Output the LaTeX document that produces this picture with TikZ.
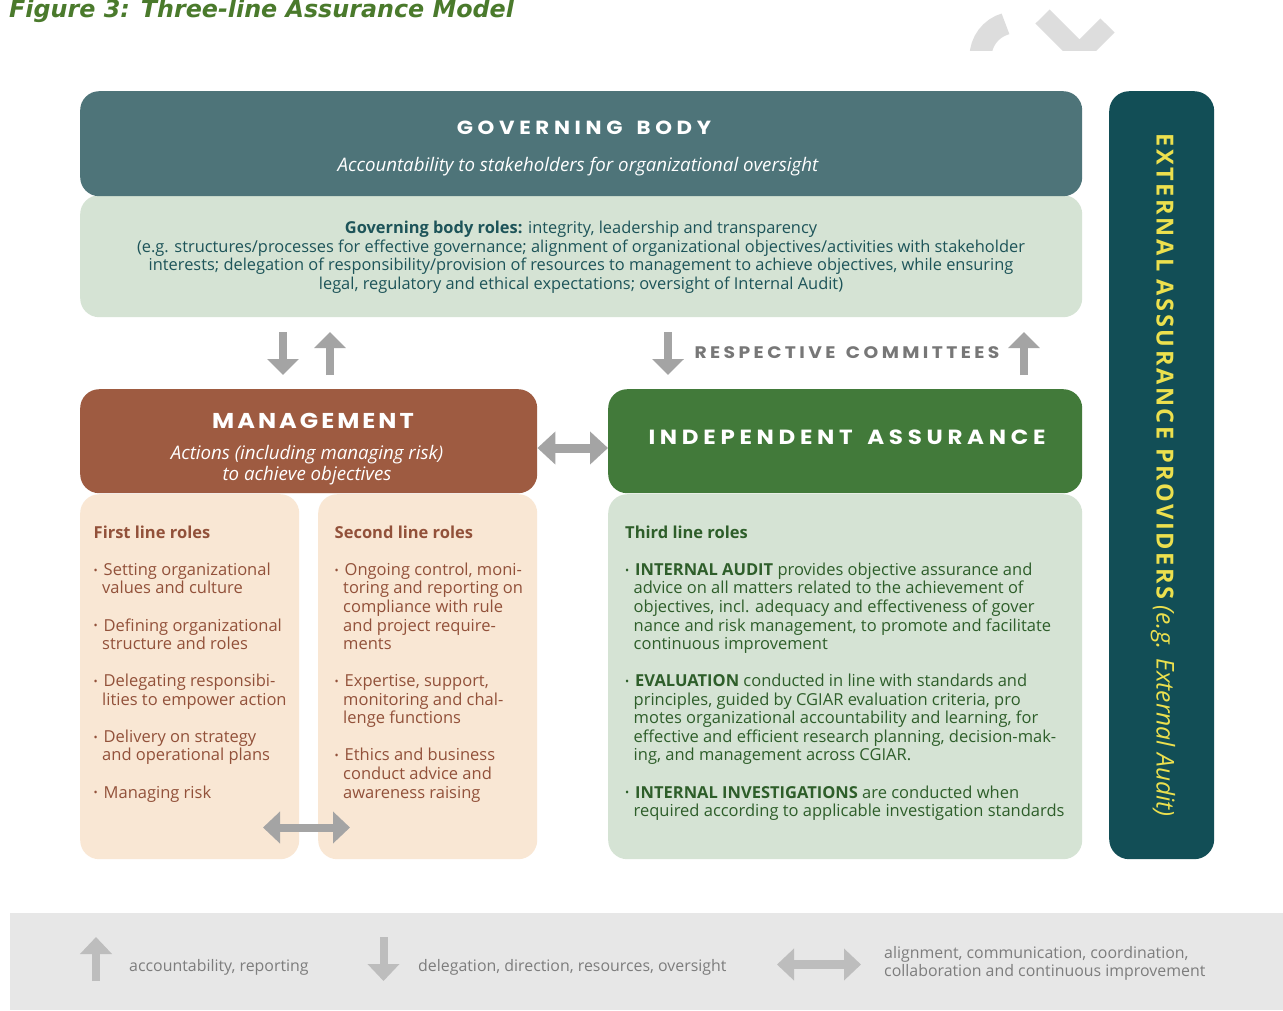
\documentclass[tikz,border=0pt]{standalone}
\usepackage{fontspec}
\setmainfont{Open Sans}
\newfontfamily\govheadfont[LetterSpace=24.5,FakeStretch=1.12]{Poppins}
\newfontfamily\mgmtheadfont[LetterSpace=14,FakeStretch=1.12]{Poppins}
\newfontfamily\indepheadfont[LetterSpace=23,FakeStretch=1.12]{Poppins}
\newfontfamily\committeefont[LetterSpace=20.5,FakeStretch=1.12]{Poppins}
\newfontfamily\extfont[LetterSpace=11]{Open Sans}
\newfontfamily\titlefont{DejaVu Sans}
\usetikzlibrary{arrows.meta}

\definecolor{govdark}{HTML}{4E7479}
\definecolor{govlight}{HTML}{D5E3D4}
\definecolor{govtext}{HTML}{1D5459}
\definecolor{mgmtbrown}{HTML}{9E5B41}
\definecolor{peach}{HTML}{F9E7D4}
\definecolor{browntext}{HTML}{92513A}
\definecolor{indepgreen}{HTML}{427A3A}
\definecolor{greentext}{HTML}{2E5E2A}
\definecolor{extteal}{HTML}{124E56}
\definecolor{extyellow}{HTML}{ECE04E}
\definecolor{arrowgrey}{HTML}{A4A4A4}
\definecolor{committeegrey}{HTML}{777777}
\definecolor{legendbg}{HTML}{E7E7E7}
\definecolor{legendarrow}{HTML}{BDBDBD}
\definecolor{legendtext}{HTML}{7D7D7D}
\definecolor{titlegreen}{HTML}{4A7A2C}
\definecolor{decogrey}{HTML}{DDDDDD}

% bullet and continuation indent for the role lists
\newcommand\rolebullet{\makebox[10pt][l]{\raisebox{0.15ex}{\fontsize{11}{11}\selectfont\textbullet}}}
\newcommand\rolecont{\hspace*{8.5pt}}
\newlength\rolegap
\setlength\rolegap{18.55pt}
% a block of lines whose reference point is the baseline of its first line
\newcommand\linesleft[2]{\begin{minipage}[t]{#1}\raggedright #2\end{minipage}}
\newcommand\linescentred[2]{\begin{minipage}[t]{#1}\centering #2\end{minipage}}

\begin{document}
\begin{tikzpicture}[x=1pt,y=-1pt,
  panel/.style={rounded corners=19pt, inner sep=0pt, anchor=north west, draw=none},
  capsline/.style={text=white, inner sep=0pt},
  subitalic/.style={font=\itshape\fontsize{18.7}{21}\selectfont, text=white, inner sep=0pt, anchor=base},
  rolelist/.style={font=\fontsize{16.5}{18.55}\selectfont, inner sep=0pt, anchor=base west},
  garrow/.style={draw=arrowgrey, line width=8pt, -{Triangle[width=31pt,length=16pt]}},
  gdouble/.style={draw=arrowgrey, line width=9pt, {Triangle[width=32pt,length=18pt]}-{Triangle[width=32pt,length=18pt]}},
  larrow/.style={draw=legendarrow, line width=8pt, -{Triangle[width=31pt,length=17pt]}},
  ldouble/.style={draw=legendarrow, line width=9pt, {Triangle[width=31pt,length=17pt]}-{Triangle[width=31pt,length=17pt]}},
  legendlabel/.style={font=\fontsize{15.9}{18}\selectfont, text=legendtext, inner sep=0pt, anchor=base west}
]
\useasboundingbox (0,0) rectangle (1283,1010);
\fill[white] (0,0) rectangle (1283,1010);

% caption
\node[font=\titlefont\bfseries\itshape\fontsize{23.8}{26}\selectfont, text=titlegreen, inner sep=0pt, anchor=base west] (caption) at (9,17.5) {Figure 3: Three-line Assurance Model};

% decorative grey marks, top right
\begin{scope}
  \clip (930,0) rectangle (1283,50);
  \draw[decogrey, line width=22pt] (1015,57) ++(-180:34.5) arc[start angle=-180, end angle=-106, radius=34.5];
  \draw[decogrey, line width=20pt, line join=miter] (1042.5,16.5) -- (1079.5,53.6) -- (1107.5,25.5);
\end{scope}

% governing body
\node[panel, fill=govlight, minimum width=1002pt, minimum height=122pt] (govroles) at (80,195) {};
\node[panel, fill=govdark, minimum width=1002pt, minimum height=105pt] (gov) at (80,91) {};
\node[capsline, font=\govheadfont\bfseries\fontsize{19}{22}\selectfont] (govtitle) at (584,127.5) {GOVERNING\hspace{5pt} BODY};
\node[subitalic] (govsub) at (578,171.5) {Accountability to stakeholders for organizational oversight};
\node[font=\fontsize{16.4}{18.6}\selectfont, text=govtext, inner sep=0pt, anchor=base] (govrolestext) at (581,233.5)
  {\linescentred{1000pt}{\textbf{Governing body roles:} integrity, leadership and transparency\\
   (e.g. structures/processes for effective governance; alignment of organizational objectives/activities with stakeholder\\
   interests; delegation of responsibility/provision of resources to management to achieve objectives, while ensuring\\
   legal, regulatory and ethical expectations; oversight of Internal Audit)}};

% external providers
\node[panel, fill=extteal, minimum width=105pt, minimum height=768pt, rounded corners=20pt] (ext) at (1109,91) {};
\node[rotate=-90, text=extyellow, inner sep=0pt] (exttext) at (1163,475)
  {{\extfont\bfseries\fontsize{23.5}{26}\selectfont EXTERNAL ASSURANCE PROVIDERS}\hspace{6pt}{\itshape\fontsize{24.5}{26}\selectfont(e.g. External Audit)}};

% management and independent assurance
\node[panel, fill=mgmtbrown, minimum width=457pt, minimum height=104pt] (mgmt) at (80,389) {};
\node[panel, fill=indepgreen, minimum width=474pt, minimum height=104pt] (indep) at (608,389) {};
\node[capsline, font=\mgmtheadfont\bfseries\fontsize{21.5}{24}\selectfont] (mgmttitle) at (313,421) {MANAGEMENT};
\node[subitalic] (mgmtsub) at (307,459) {\linescentred{400pt}{Actions (including managing risk)\\to achieve objectives}};
\node[capsline, font=\indepheadfont\bfseries\fontsize{20.5}{24}\selectfont] (indeptitle) at (847,437) {INDEPENDENT\hspace{5pt} ASSURANCE};

% role panels
\node[panel, fill=peach, minimum width=219pt, minimum height=365pt] (first) at (80,494) {};
\node[panel, fill=peach, minimum width=219pt, minimum height=365pt] (second) at (318,494) {};
\node[panel, fill=govlight, minimum width=474pt, minimum height=365pt] (third) at (608,494) {};

\node[rolelist, text=browntext] (firsttext) at (93.5,538.3)
  {\linesleft{200pt}{\textbf{First line roles}\\[\rolegap]
   \rolebullet Setting organizational\\
   \rolecont values and culture\\[\rolegap]
   \rolebullet Defining organizational\\
   \rolecont structure and roles\\[\rolegap]
   \rolebullet Delegating responsibi-\\
   \rolecont lities to empower action\\[\rolegap]
   \rolebullet Delivery on strategy\\
   \rolecont and operational plans\\[\rolegap]
   \rolebullet Managing risk}};

\node[rolelist, text=browntext] (secondtext) at (334.5,538.3)
  {\linesleft{200pt}{\textbf{Second line roles}\\[\rolegap]
   \rolebullet Ongoing control, moni-\\
   \rolecont toring and reporting on\\
   \rolecont compliance with rule\\
   \rolecont and project require-\\
   \rolecont ments\\[\rolegap]
   \rolebullet Expertise, support,\\
   \rolecont monitoring and chal-\\
   \rolecont lenge functions\\[\rolegap]
   \rolebullet Ethics and business\\
   \rolecont conduct advice and\\
   \rolecont awareness raising}};

\node[rolelist, text=greentext] (thirdtext) at (625,538.3)
  {\linesleft{450pt}{\textbf{Third line roles}\\[\rolegap]
   \rolebullet\textbf{INTERNAL AUDIT} provides objective assurance and\\
   \rolecont advice on all matters related to the achievement of\\
   \rolecont objectives, incl. adequacy and effectiveness of gover\\
   \rolecont nance and risk management, to promote and facilitate\\
   \rolecont continuous improvement\\[\rolegap]
   \rolebullet\textbf{EVALUATION} conducted in line with standards and\\
   \rolecont principles, guided by CGIAR evaluation criteria, pro\\
   \rolecont motes organizational accountability and learning, for\\
   \rolecont effective and efficient research planning, decision-mak-\\
   \rolecont ing, and management across CGIAR.\\[\rolegap]
   \rolebullet\textbf{INTERNAL INVESTIGATIONS} are conducted when\\
   \rolecont required according to applicable investigation standards}};

% reporting lines between the governing body and the three lines
\coordinate (govdownA) at (283,332);
\coordinate (govdownB) at (283,375);
\coordinate (govupA) at (330,375);
\coordinate (govupB) at (330,332);
\coordinate (comdownA) at (668,332);
\coordinate (comdownB) at (668,375);
\coordinate (comupA) at (1024,375);
\coordinate (comupB) at (1024,332);
\draw[garrow] (govdownA) -- (govdownB);
\draw[garrow] (govupA) -- (govupB);
\draw[garrow] (comdownA) -- (comdownB);
\draw[garrow] (comupA) -- (comupB);
\node[font=\committeefont\bfseries\fontsize{16.7}{18}\selectfont, text=committeegrey, inner sep=0pt] (committees) at (847,352.5) {RESPECTIVE\hspace{3pt} COMMITTEES};

% coordination between management and independent assurance, and between the first two lines
\draw[gdouble] (mgmt.east |- 0,448) -- (indep.west |- 0,448);
\coordinate (pairL) at (263,827.5);
\coordinate (pairR) at (350,827.5);
\draw[gdouble, line width=8pt, {Triangle[width=31pt,length=17pt]}-{Triangle[width=31pt,length=17pt]}] (pairL) -- (pairR);

% legend
\node[panel, fill=legendbg, rounded corners=0pt, minimum width=1273pt, minimum height=97pt] (legend) at (10,913) {};
\coordinate (legupA) at (96,981);
\coordinate (legupB) at (96,937);
\coordinate (legdownA) at (383.5,937);
\coordinate (legdownB) at (383.5,981);
\coordinate (legbothA) at (777,964.5);
\coordinate (legbothB) at (861,964.5);
\draw[larrow] (legupA) -- (legupB);
\draw[larrow] (legdownA) -- (legdownB);
\draw[ldouble] (legbothA) -- (legbothB);
\node[legendlabel] (legup) at (129,971.5) {accountability, reporting};
\node[legendlabel] (legdown) at (418,971.5) {delegation, direction, resources, oversight};
\node[legendlabel] (legboth) at (884,958.5) {\linesleft{380pt}{alignment, communication, coordination,\\collaboration and continuous improvement}};
\end{tikzpicture}
\end{document}
